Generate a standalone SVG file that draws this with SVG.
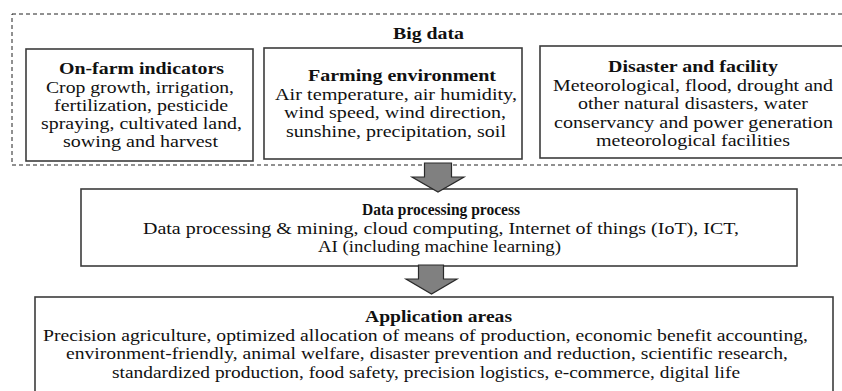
<svg xmlns="http://www.w3.org/2000/svg" width="842" height="391" viewBox="0 0 842 391">
<style>
.box{fill:#fff;stroke:#3c3c3c;stroke-width:1.6}
.dash{fill:none;stroke:#222;stroke-width:1;stroke-dasharray:4 3}
.t{font-size:17.5px;fill:#111}
.b{font-weight:bold}
.arrow{fill:#808080;stroke:#2a2a2a;stroke-width:1.2}
</style>
<rect width="842" height="391" fill="#fff"/>
<g font-family="Liberation Serif, serif">
<g id="bigdata">
<rect class="dash" x="12" y="14" width="840" height="151"/>
<text class="t b" x="393" y="39" textLength="71" lengthAdjust="spacingAndGlyphs">Big data</text>
</g>
<g id="onfarm">
<rect class="box" x="26" y="49" width="227" height="112"/>
<text class="t b" x="59" y="74" textLength="165" lengthAdjust="spacingAndGlyphs">On-farm indicators</text>
<text class="t" x="46" y="92.5" textLength="188" lengthAdjust="spacingAndGlyphs">Crop growth, irrigation,</text>
<text class="t" x="54" y="111" textLength="174" lengthAdjust="spacingAndGlyphs">fertilization, pesticide</text>
<text class="t" x="41" y="129" textLength="201" lengthAdjust="spacingAndGlyphs">spraying, cultivated land,</text>
<text class="t" x="63" y="147" textLength="155" lengthAdjust="spacingAndGlyphs">sowing and harvest</text>
</g>
<g id="farming">
<rect class="box" x="264" y="48" width="258" height="111"/>
<text class="t b" x="308" y="81" textLength="188" lengthAdjust="spacingAndGlyphs">Farming environment</text>
<text class="t" x="275" y="99.5" textLength="242" lengthAdjust="spacingAndGlyphs">Air temperature, air humidity,</text>
<text class="t" x="284" y="118" textLength="222" lengthAdjust="spacingAndGlyphs">wind speed, wind direction,</text>
<text class="t" x="286" y="136.5" textLength="220" lengthAdjust="spacingAndGlyphs">sunshine, precipitation, soil</text>
</g>
<g id="disaster">
<rect class="box" x="540" y="46" width="320" height="112"/>
<text class="t b" x="608" y="72" textLength="170" lengthAdjust="spacingAndGlyphs">Disaster and facility</text>
<text class="t" x="553" y="90.5" textLength="280" lengthAdjust="spacingAndGlyphs">Meteorological, flood, drought and</text>
<text class="t" x="578" y="109" textLength="230" lengthAdjust="spacingAndGlyphs">other natural disasters, water</text>
<text class="t" x="554" y="127.5" textLength="279" lengthAdjust="spacingAndGlyphs">conservancy and power generation</text>
<text class="t" x="596" y="146" textLength="194" lengthAdjust="spacingAndGlyphs">meteorological facilities</text>
</g>
<g id="processing">
<rect class="box" x="81" y="189" width="716" height="77"/>
<text class="t b" x="362" y="215" textLength="158" lengthAdjust="spacingAndGlyphs">Data processing process</text>
<text class="t" x="143" y="233.5" textLength="596" lengthAdjust="spacingAndGlyphs">Data processing &amp; mining, cloud computing, Internet of things (IoT), ICT,</text>
<text class="t" x="318" y="252" textLength="243" lengthAdjust="spacingAndGlyphs">AI (including machine learning)</text>
</g>
<g id="application">
<rect class="box" x="35" y="297" width="798" height="110"/>
<text class="t b" x="365" y="322" textLength="147" lengthAdjust="spacingAndGlyphs">Application areas</text>
<text class="t" x="43" y="340.5" textLength="765" lengthAdjust="spacingAndGlyphs">Precision agriculture, optimized allocation of means of production, economic benefit accounting,</text>
<text class="t" x="66" y="359" textLength="722" lengthAdjust="spacingAndGlyphs">environment-friendly, animal welfare, disaster prevention and reduction, scientific research,</text>
<text class="t" x="112" y="377.5" textLength="628" lengthAdjust="spacingAndGlyphs">standardized production, food safety, precision logistics, e-commerce, digital life</text>
</g>
</g>
<g id="connectors">
<path class="arrow" d="M424.5 163 H451.5 V177 H464 L438 192 L412 177 H424.5 Z"/>
<path class="arrow" d="M418.5 265 H443.5 V279 H457 L431.5 294 L406 279 H418.5 Z"/>
</g>
</svg>
